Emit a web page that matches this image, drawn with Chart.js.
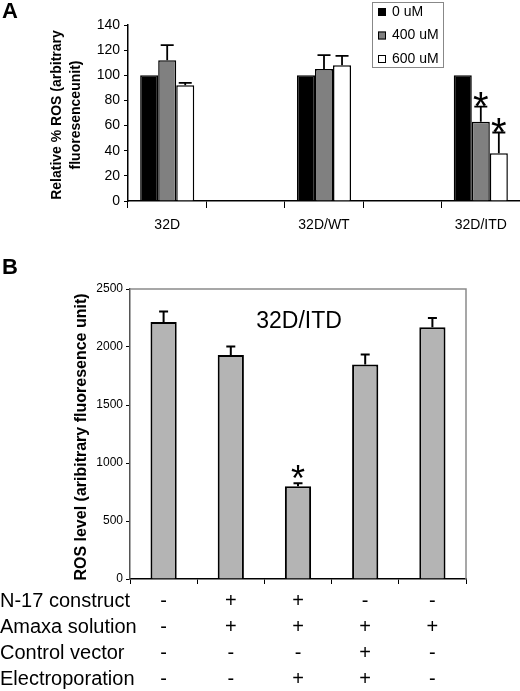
<!DOCTYPE html>
<html>
<head>
<meta charset="utf-8">
<script src="https://cdn.jsdelivr.net/npm/chart.js@4"></script>
<style>
    body { margin: 0; background: #fff; width: 520px; height: 691px; position: relative; overflow: hidden; }
    #wrapA { position: absolute; left: 0; top: 0; width: 520px; height: 240px; }
    #wrapB { position: absolute; left: 0; top: 250px; width: 520px; height: 441px; }
</style>
</head>
<body>
<div id="wrapA"><canvas id="chartA"></canvas></div>
<div id="wrapB"><canvas id="chartB"></canvas></div>
<script>
// Panel A data
const groupsA = ['32D', '', '32D/WT', '', '32D/ITD'];
const dose0 = [100, null, 100, null, 100];
const dose400 = [112, null, 105, null, 63];
const dose600 = [92, null, 108, null, 38];
const err400 = [12, null, 11, null, 12];
const err600 = [2, null, 7.5, null, 16.5];
const star400 = [false, false, false, false, true];
const star600 = [false, false, false, false, true];
const ticksA = [0, 20, 40, 60, 80, 100, 120, 140];

// Panel B data
const rosB = [2215, 1930, 800, 1850, 2170];
const errB = [90, 75, 25, 85, 80];
const starB = [false, false, true, false, false];
const ticksB = [0, 500, 1000, 1500, 2000, 2500];
const rowNames = ['N-17 construct', 'Amaxa solution', 'Control vector', 'Electroporation'];
const n17 = ['-', '+', '+', '-', '-'];
const amaxa = ['-', '+', '+', '+', '+'];
const control = ['-', '-', '-', '+', '-'];
const electro = ['-', '-', '+', '+', '-'];

const FONT = 'Arial, "Liberation Sans", sans-serif';

// error bars (upward only) and significance stars
const errorBars = {
    id: 'errorBars',
    afterDatasetsDraw(chart, args, opts) {
        const ctx = chart.ctx;
        const yScale = chart.scales.y;
        chart.data.datasets.forEach((ds, i) => {
            if (!ds.errors) return;
            chart.getDatasetMeta(i).data.forEach((bar, j) => {
                const v = ds.data[j];
                const e = ds.errors[j];
                if (v == null || !e) return;
                const top = yScale.getPixelForValue(v + e);
                ctx.save();
                ctx.strokeStyle = '#000';
                ctx.lineWidth = opts.width;
                ctx.beginPath();
                ctx.moveTo(bar.x, bar.y);
                ctx.lineTo(bar.x, top);
                ctx.moveTo(bar.x - opts.cap / 2, top);
                ctx.lineTo(bar.x + opts.cap / 2, top);
                ctx.stroke();
                if (ds.stars && ds.stars[j]) {
                    ctx.font = opts.starSize + 'px ' + FONT;
                    ctx.fillStyle = '#000';
                    ctx.textAlign = 'center';
                    ctx.textBaseline = 'alphabetic';
                    const m = ctx.measureText('*');
                    const cy = top - opts.starGap;
                    const base = cy + (m.actualBoundingBoxAscent - m.actualBoundingBoxDescent) / 2;
                    ctx.fillText('*', bar.x, base);
                }
                ctx.restore();
            });
        });
    }
};

function rotatedText(ctx, text, x, y, font) {
    ctx.save();
    ctx.translate(x, y);
    ctx.rotate(-Math.PI / 2);
    ctx.font = font;
    ctx.fillStyle = '#000';
    ctx.textAlign = 'center';
    ctx.textBaseline = 'middle';
    ctx.fillText(text, 0, 0);
    ctx.restore();
}

const panelA = {
    id: 'panelA',
    afterDraw(chart) {
        const ctx = chart.ctx;
        const area = chart.chartArea;
        const cy = (area.top + area.bottom) / 2 + 2;
        ctx.save();
        ctx.fillStyle = '#000';
        ctx.font = 'bold 22px ' + FONT;
        ctx.textBaseline = 'top';
        ctx.fillText('A', 2, 1);
        rotatedText(ctx, 'Relative % ROS (arbitrary', 57, cy, 'bold 14px ' + FONT);
        rotatedText(ctx, 'fluoresenceunit)', 76, cy, 'bold 14px ' + FONT);

        // legend box
        ctx.strokeStyle = '#888';
        ctx.lineWidth = 1;
        ctx.strokeRect(372.5, 2.5, 71, 65);
        ctx.font = '14px ' + FONT;
        ctx.textBaseline = 'middle';
        chart.data.datasets.forEach((ds, i) => {
            const y = 12 + i * 23.5;
            ctx.fillStyle = ds.backgroundColor;
            ctx.fillRect(378, y - 4, 8, 8);
            ctx.strokeStyle = '#000';
            ctx.strokeRect(378.5, y - 3.5, 7, 7);
            ctx.fillStyle = '#000';
            ctx.fillText(ds.label, 392, y);
        });
        ctx.restore();
    }
};

const panelB = {
    id: 'panelB',
    beforeDatasetsDraw(chart) {
        const ctx = chart.ctx;
        const a = chart.chartArea;
        ctx.save();
        ctx.strokeStyle = '#8a8a8a';
        ctx.lineWidth = 1.5;
        ctx.beginPath();
        ctx.moveTo(a.left, a.top);
        ctx.lineTo(a.right, a.top);
        ctx.lineTo(a.right, a.bottom);
        ctx.stroke();
        ctx.restore();
    },
    afterDraw(chart) {
        const ctx = chart.ctx;
        const a = chart.chartArea;
        const xs = chart.scales.x;
        ctx.save();
        ctx.fillStyle = '#000';
        ctx.font = 'bold 22px ' + FONT;
        ctx.textBaseline = 'top';
        ctx.fillText('B', 2, 7);
        rotatedText(ctx, 'ROS level (aribitrary fluoresence unit)', 82, (a.top + a.bottom) / 2 + 3, 'bold 16px ' + FONT);

        ctx.font = '23px ' + FONT;
        ctx.textAlign = 'center';
        ctx.textBaseline = 'middle';
        ctx.fillText('32D/ITD', (a.left + a.right) / 2 + 1, a.top + 33);

        // row labels of the condition table
        ctx.font = '20px ' + FONT;
        ctx.textAlign = 'left';
        rowNames.forEach((name, i) => {
            ctx.fillText(name, 0, xs.top + 5 + 4 + 26 * (i + 0.5));
        });
        ctx.restore();
    }
};

new Chart(document.getElementById('chartA'), {
    type: 'bar',
    data: {
        labels: groupsA,
        datasets: [
            { label: '0 uM', data: dose0, backgroundColor: '#000', borderColor: '#000', borderWidth: 1.5 },
            { label: '400 uM', data: dose400, errors: err400, stars: star400, backgroundColor: '#808080', borderColor: '#000', borderWidth: 1.5 },
            { label: '600 uM', data: dose600, errors: err600, stars: star600, backgroundColor: '#fff', borderColor: '#000', borderWidth: 1.5 }
        ]
    },
    options: {
        responsive: true,
        maintainAspectRatio: false,
        animation: false,
        layout: { padding: { top: 25, right: 0, bottom: 0, left: 0 } },
        datasets: { bar: { barPercentage: 1, categoryPercentage: 0.69 } },
        plugins: {
            legend: { display: false },
            tooltip: { enabled: false },
            errorBars: { width: 1.8, cap: 13, starSize: 40, starGap: 7 }
        },
        scales: {
            x: {
                grid: { offset: true, drawOnChartArea: false, tickLength: 7, color: '#000' },
                border: { color: '#000', width: 1.5 },
                ticks: { font: { family: FONT, size: 14 }, color: '#000', padding: 9 },
                afterFit: s => { s.height = 39; }
            },
            y: {
                min: 0,
                max: 140,
                afterBuildTicks: s => { s.ticks = ticksA.map(v => ({ value: v })); },
                grid: { drawOnChartArea: false, tickLength: 4, color: '#000' },
                border: { color: '#000', width: 1.5 },
                ticks: { font: { family: FONT, size: 14 }, color: '#000', padding: 4, callback: v => String(v) },
                afterFit: s => { s.width = 128; }
            }
        }
    },
    plugins: [errorBars, panelA]
});

new Chart(document.getElementById('chartB'), {
    type: 'bar',
    data: {
        labels: n17.map((v, i) => [n17[i], amaxa[i], control[i], electro[i]]),
        datasets: [
            { label: 'ROS', data: rosB, errors: errB, stars: starB, backgroundColor: '#b4b4b4', borderColor: '#000', borderWidth: 2 }
        ]
    },
    options: {
        responsive: true,
        maintainAspectRatio: false,
        animation: false,
        layout: { padding: { top: 39, right: 54, bottom: 0, left: 0 } },
        datasets: { bar: { barPercentage: 0.39, categoryPercentage: 1 } },
        plugins: {
            legend: { display: false },
            tooltip: { enabled: false },
            errorBars: { width: 2, cap: 9, starSize: 36, starGap: 11 }
        },
        scales: {
            x: {
                grid: { offset: true, drawOnChartArea: false, tickLength: 5, color: '#000' },
                border: { color: '#000', width: 1.5 },
                ticks: { font: { family: FONT, size: 20, lineHeight: 1.3 }, color: '#000', padding: 4 },
                afterFit: s => { s.height = 112; }
            },
            y: {
                min: 0,
                max: 2500,
                afterBuildTicks: s => { s.ticks = ticksB.map(v => ({ value: v })); },
                grid: { drawOnChartArea: false, tickLength: 4, color: '#000' },
                border: { color: '#555', width: 1.5 },
                ticks: { font: { family: FONT, size: 12 }, color: '#000', padding: 3, callback: v => String(v) },
                afterFit: s => { s.width = 130; }
            }
        }
    },
    plugins: [errorBars, panelB]
});
</script>
</body>
</html>
